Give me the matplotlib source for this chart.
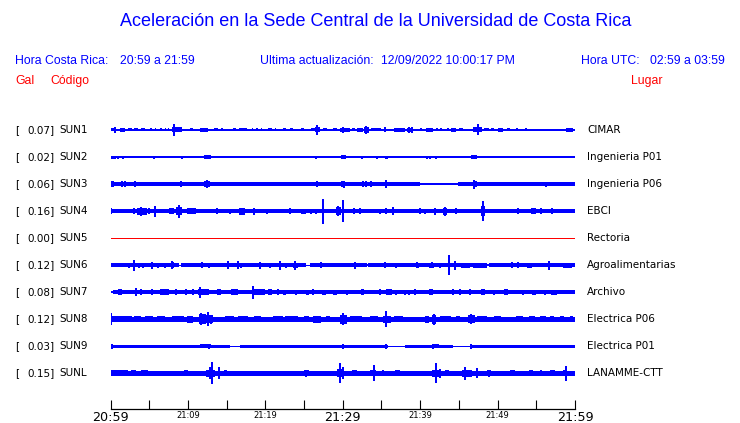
import numpy as np
import matplotlib
matplotlib.use('Agg')
import matplotlib.pyplot as plt

# ---- data (minutes after 20:59, half height of the trace in px) ----
codes = ['SUN1', 'SUN2', 'SUN3', 'SUN4', 'SUN5', 'SUN6', 'SUN7', 'SUN8', 'SUN9', 'SUNL']
peak_gal = [0.07, 0.02, 0.06, 0.16, 0.00, 0.12, 0.08, 0.12, 0.03, 0.15]
places = ['CIMAR', 'Ingenieria P01', 'Ingenieria P06', 'EBCI', 'Rectoria',
          'Agroalimentarias', 'Archivo', 'Electrica P06', 'Electrica P01', 'LANAMME-CTT']
time_ticks = [0, 5, 10, 15, 20, 25, 30, 35, 40, 45, 50, 55, 60]
time_labels = ['20:59', '', '21:09', '', '21:19', '', '21:29', '', '21:39', '', '21:49', '', '21:59']

# (start, end, half) continuous level of each trace
sun1_base = [(0, 60, 0.6)]
sun1_blocks = [(0.0, 0.4, 1.5), (1.2, 1.9, 2.2), (2.2, 2.8, 1.5), (3.1, 3.6, 1.5), (3.9, 4.4, 1.5),
               (5.1, 5.3, 1.5), (5.7, 5.9, 1.5), (6.4, 6.6, 1.5), (7.0, 7.2, 1.5), (7.4, 7.5, 1.5),
               (7.9, 9.2, 2.5), (10.3, 10.7, 1.5), (11.5, 12.6, 1.6), (13.4, 13.9, 1.5), (14.3, 14.5, 1.5),
               (15.8, 16.2, 1.5), (16.6, 17.6, 1.5), (18.3, 18.4, 1.5), (18.8, 19.0, 1.5), (19.4, 19.6, 1.5),
               (20.4, 20.8, 1.5), (21.3, 21.4, 1.5), (22.3, 22.7, 1.5), (23.2, 23.6, 1.5), (24.6, 25.0, 1.5),
               (25.9, 26.4, 1.5), (26.4, 27.1, 2.5), (27.5, 28.0, 1.5), (28.8, 29.2, 1.5), (29.6, 30.9, 1.8),
               (31.2, 31.6, 1.5), (31.8, 32.6, 1.6), (32.8, 33.4, 3.0), (33.6, 35.0, 1.5), (36.6, 38.0, 1.6),
               (38.3, 39.0, 1.6), (40.0, 40.2, 1.5), (40.8, 41.7, 1.6), (42.1, 42.3, 1.5), (42.6, 42.8, 1.5),
               (43.5, 43.7, 1.5), (44.0, 44.6, 1.6), (45.0, 45.5, 1.5), (46.8, 48.0, 2.5), (48.3, 48.9, 1.5),
               (49.1, 49.5, 1.5), (50.0, 50.7, 1.6), (51.2, 51.6, 1.5), (52.4, 52.6, 1.5), (53.5, 53.8, 1.5),
               (58.9, 59.7, 1.6)]
sun1_spikes = [(0.6, 3), (8.2, 6), (26.7, 5), (30.0, 3), (33.0, 4), (35.5, 2.5), (38.5, 3), (38.9, 3), (47.5, 5.5)]

sun2_base = [(0, 60, 0.6)]
sun2_blocks = [(0, 0.6, 1.5), (0.9, 1.0, 1.5), (1.3, 1.4, 1.5), (2.3, 2.4, 1.2), (12.1, 13.0, 1.6),
               (29.8, 30.4, 2.0), (34.3, 34.6, 1.5), (35.5, 35.8, 1.5), (40.7, 41.0, 1.5), (41.2, 41.4, 1.5),
               (41.9, 42.2, 1.5), (46.6, 47.3, 1.6)]
sun2_spikes = [(0.6, 1.5), (1.0, 1.5), (1.6, 1.5), (2.8, 1.2), (5.6, 1.5), (6.1, 1.2), (8.4, 1.0), (9.2, 1.5),
               (12.5, 2.0), (15.0, 1.0), (15.3, 1.0), (26.6, 1.5), (30.2, 2.0), (31.0, 1.0), (32.5, 1.5),
               (33.5, 1.0), (37.4, 1.0), (43.1, 1.0), (43.5, 1.0), (45.5, 1.0), (48.5, 1.0), (51.0, 1.0), (51.4, 1.0)]

sun3_base = [(0, 40.0, 2.1), (40.0, 44.9, 0.6), (44.9, 60, 2.1)]
sun3_blocks = [(0, 0.4, 2.8), (12.1, 12.9, 3.2), (29.8, 30.3, 3.0), (47.0, 47.3, 3.4)]
sun3_spikes = [(0.1, 3), (1.5, 2.8), (1.9, 2.8), (3.2, 2.8), (9.1, 2.8), (12.5, 4), (26.7, 2.8), (30.1, 3.5),
               (32.6, 2.8), (33.0, 2.8), (33.7, 2.8), (35.6, 4), (41.7, 1.0), (47.0, 4.5), (56.3, 2.5)]

sun4_base = [(0, 60, 2.1)]
sun4_blocks = [(3.4, 4.7, 3.5), (7.6, 8.2, 3.0), (8.4, 9.3, 4.0), (9.9, 11.0, 3.0), (16.6, 17.4, 3.5),
               (18.5, 18.7, 3.0), (24.6, 25.3, 2.6), (29.1, 29.8, 4.0), (42.9, 43.5, 3.5), (47.9, 48.4, 5.0),
               (54.3, 55.0, 2.8)]
sun4_spikes = [(0.1, 2.8), (3.0, 3.0), (4.0, 4.5), (5.0, 2.8), (5.7, 5.5), (8.8, 6.5), (13.7, 2.8), (15.4, 2.6),
               (18.6, 3.5), (20.2, 2.6), (23.2, 2.8), (25.9, 2.6), (26.6, 2.6), (27.5, 12.5), (29.4, 5.0),
               (30.0, 11.0), (31.5, 2.8), (32.2, 2.8), (34.8, 2.6), (35.6, 3.0), (36.5, 4.0), (40.0, 2.8),
               (40.6, 2.6), (41.9, 3.5), (43.2, 4.5), (44.6, 3.0), (48.1, 10.0), (52.6, 3.0), (55.6, 2.8),
               (57.0, 2.8)]

sun5_base = [(0, 60, 0.6)]
sun5_blocks = []
sun5_spikes = []

sun6_base = [(0, 8.9, 2.0), (8.9, 9.1, 0.6), (9.1, 25.3, 2.0), (25.3, 25.8, 0.6), (25.8, 33.1, 2.0),
             (33.1, 33.3, 0.8), (33.3, 48.6, 2.0), (48.6, 48.9, 0.8), (48.9, 60, 2.0)]
sun6_blocks = [(23.6, 24.2, 2.6), (39.4, 39.8, 2.5), (41.1, 41.8, 2.6), (45.3, 46.5, 2.4), (46.8, 48.6, 2.4),
               (53.8, 54.4, 2.5), (58.4, 59.6, 2.4)]
sun6_spikes = [(2.4, 2.5), (3.1, 5.5), (3.7, 2.5), (4.2, 2.5), (5.3, 3.5), (6.2, 2.5), (7.1, 2.5), (7.9, 4.0),
               (8.1, 3.0), (11.8, 2.8), (12.7, 2.5), (15.2, 4.0), (16.5, 4.0), (16.9, 2.5), (19.3, 3.5),
               (20.6, 2.5), (21.9, 4.5), (22.7, 2.5), (23.8, 4.5), (27.2, 2.8), (31.6, 3.5), (35.5, 2.8),
               (36.9, 2.5), (39.6, 2.8), (41.5, 3.0), (42.5, 2.4), (43.7, 10.0), (44.5, 4.5), (45.5, 2.5),
               (51.9, 2.8), (52.7, 3.0), (56.7, 4.5)]

sun7_base = [(0, 0.3, 0.8), (0.3, 60, 2.2)]
sun7_blocks = [(1.0, 1.5, 2.8), (6.4, 7.5, 2.8), (11.3, 12.0, 2.8), (12.0, 12.7, 3.0), (13.7, 14.3, 2.8),
               (15.6, 16.5, 2.8), (18.3, 20.0, 3.0), (20.4, 20.8, 2.8), (22.3, 22.7, 2.6), (25.3, 25.6, 2.6),
               (27.3, 27.8, 2.6), (28.8, 29.2, 2.6), (32.3, 32.7, 2.8), (35.6, 36.3, 2.8), (41.2, 41.7, 2.8),
               (45.0, 45.3, 2.8), (47.9, 48.4, 2.8), (50.8, 51.3, 2.8), (54.5, 55.0, 2.6), (56.0, 56.3, 2.6),
               (56.9, 57.7, 2.6)]
sun7_spikes = [(3.3, 4.0), (3.9, 2.8), (5.4, 2.8), (8.5, 3.0), (9.8, 2.8), (10.7, 2.8), (11.6, 5.5),
               (18.4, 6.5), (21.7, 2.8), (24.0, 2.6), (26.2, 2.8), (30.5, 2.6), (34.8, 2.8), (36.9, 2.6),
               (38.0, 2.6), (38.6, 2.6), (39.3, 3.0), (44.2, 2.8), (46.4, 2.8), (49.6, 2.6), (53.3, 2.6)]

sun8_base = [(0, 60, 2.5)]
sun8_blocks = [(0.1, 2.8, 3.2), (3.0, 4.0, 3.2), (4.5, 5.5, 3.2), (6.0, 7.0, 3.2), (8.0, 9.5, 3.2),
               (9.9, 10.6, 3.5), (11.4, 12.4, 5.0), (12.4, 13.3, 4.0), (14.8, 16.0, 3.2), (16.5, 17.8, 3.2),
               (18.6, 19.5, 3.1), (21.0, 22.3, 3.2), (22.6, 24.2, 3.2), (25.0, 25.6, 3.1), (26.2, 27.2, 3.5),
               (27.8, 28.4, 3.1), (29.6, 30.5, 4.5), (31.0, 32.5, 3.2), (33.5, 34.6, 3.2), (35.2, 36.2, 3.5),
               (36.6, 37.8, 3.2), (40.6, 41.2, 3.5), (41.5, 42.0, 4.5), (42.5, 44.0, 3.2), (44.6, 45.2, 3.2),
               (46.2, 47.1, 4.0), (47.4, 48.6, 3.2), (49.5, 50.4, 3.2), (52.4, 53.3, 3.2), (54.0, 54.8, 3.2),
               (55.5, 56.2, 3.2), (56.8, 57.3, 3.1), (58.0, 58.6, 3.1), (59.3, 59.7, 3.1)]
sun8_spikes = [(0.06, 6.0), (11.7, 6.0), (12.6, 7.0), (13.0, 4.5), (30.0, 6.0), (35.6, 8.0), (41.8, 5.5), (46.6, 5.0)]

sun9_base = [(0, 15.4, 1.4), (15.4, 16.7, 0.6), (16.7, 35.9, 1.4), (35.9, 38.1, 0.8), (38.1, 44.2, 1.4),
             (44.2, 46.4, 0.8), (46.4, 60, 1.3)]
sun9_blocks = [(0.0, 1.0, 1.8), (1.5, 2.2, 1.8), (3.0, 3.7, 1.8), (4.5, 5.2, 1.8), (6.0, 6.8, 1.8),
               (7.5, 8.3, 1.8), (9.0, 9.5, 1.8), (10.3, 10.9, 1.8), (11.6, 13.0, 2.0), (14.0, 14.6, 1.8),
               (17.0, 17.6, 1.8), (18.0, 18.8, 1.8), (19.5, 20.3, 1.8), (21.0, 21.7, 1.8), (22.2, 23.0, 1.8),
               (23.8, 24.6, 1.8), (25.2, 25.9, 1.8), (26.6, 27.4, 1.8), (28.0, 28.7, 1.8), (29.3, 29.8, 1.8),
               (31.3, 32.0, 1.8), (32.6, 33.4, 1.8), (34.1, 35.0, 1.8), (39.0, 40.0, 1.8), (40.3, 41.2, 1.8),
               (41.8, 42.4, 2.0), (47.0, 47.5, 1.8), (48.0, 48.7, 1.8), (49.2, 49.9, 1.8), (53.2, 53.9, 1.8),
               (54.6, 55.3, 1.8), (56.4, 57.0, 1.8), (58.0, 58.6, 1.8), (59.2, 59.8, 1.8)]
sun9_spikes = [(0.25, 2.8), (12.7, 2.8), (30.0, 2.8), (35.6, 2.2), (41.7, 2.2), (46.6, 2.8)]

sunl_base = [(0, 60, 2.4)]
sunl_blocks = [(0, 2.3, 2.9), (2.6, 3.3, 2.9), (4.0, 4.8, 3.0), (5.2, 6.0, 2.8), (6.5, 7.5, 2.8), (8.0, 8.8, 2.8),
               (9.5, 10.0, 2.9), (10.8, 11.4, 2.8), (12.4, 13.5, 3.5), (14.6, 15.0, 3.0), (19.6, 20.2, 2.8),
               (21.2, 21.6, 2.8), (23.0, 23.6, 2.8), (25.0, 25.6, 3.0), (27.0, 27.5, 2.8), (29.3, 30.2, 4.0),
               (31.2, 31.8, 3.0), (33.5, 34.3, 3.0), (36.8, 37.4, 3.0), (41.5, 42.6, 3.5), (43.2, 43.7, 3.0),
               (45.4, 46.7, 3.5), (48.6, 49.2, 3.0), (51.6, 52.2, 2.9), (54.0, 54.6, 2.9), (56.8, 57.4, 3.0),
               (58.5, 59.0, 3.0)]
sunl_spikes = [(0.1, 2.9), (4.4, 3.0), (11.3, 2.8), (12.8, 6.0), (13.1, 11.0), (14.0, 6.0), (14.9, 3.0),
               (20.4, 2.8), (22.1, 2.8), (25.3, 3.5), (26.0, 2.8), (27.7, 2.8), (29.6, 10.0), (30.0, 6.0),
               (31.5, 2.8), (34.1, 8.0), (35.2, 3.0), (40.3, 2.8), (42.1, 10.0), (42.6, 4.5), (43.5, 3.0),
               (44.5, 2.8), (45.8, 6.5), (47.3, 5.0), (48.9, 3.5), (51.4, 2.8), (52.2, 2.8), (54.3, 2.8),
               (55.6, 3.0), (58.8, 7.5), (59.3, 2.8)]

traces = [(sun1_base, sun1_blocks, sun1_spikes), (sun2_base, sun2_blocks, sun2_spikes),
          (sun3_base, sun3_blocks, sun3_spikes), (sun4_base, sun4_blocks, sun4_spikes),
          (sun5_base, sun5_blocks, sun5_spikes), (sun6_base, sun6_blocks, sun6_spikes),
          (sun7_base, sun7_blocks, sun7_spikes), (sun8_base, sun8_blocks, sun8_spikes),
          (sun9_base, sun9_blocks, sun9_spikes), (sunl_base, sunl_blocks, sunl_spikes)]

W, H = 740, 423
ROW_PX = 27.04   # vertical spacing between traces, px
BLUE = '#0000ff'
RED = '#ff0000'


def draw_trace(ax, row, base, blocks, spikes, color):
    # rectangles for the continuous level and for the bursts
    for segs in (base, blocks):
        if not segs:
            continue
        s = np.array(segs, dtype=float)
        ax.bar(s[:, 0], 2 * s[:, 2] / ROW_PX, width=s[:, 1] - s[:, 0], bottom=row - s[:, 2] / ROW_PX,
               align='edge', color=color, linewidth=0, antialiased=False)
    # short isolated peaks
    if spikes:
        p = np.array(spikes, dtype=float)
        ax.vlines(p[:, 0], row - p[:, 1] / ROW_PX, row + p[:, 1] / ROW_PX, color=color,
                  linewidth=1.2, antialiased=False)


fig = plt.figure(figsize=(W / 100, H / 100), dpi=100)
ax_bottom_px, ax_top_px = 409.3, 115
ax = fig.add_axes([110.5 / W, 1 - ax_bottom_px / H, 464.5 / W, (ax_bottom_px - ax_top_px) / H])
ax.set_xlim(0, 60)
ax.set_ylim((ax_bottom_px - 130) / ROW_PX, (ax_top_px - 130) / ROW_PX)

for i, (base, blocks, spikes) in enumerate(traces):
    color = RED if peak_gal[i] == 0 else BLUE
    draw_trace(ax, i, base, blocks, spikes, color)

for side in ['top', 'left', 'right']:
    ax.spines[side].set_visible(False)
ax.spines['bottom'].set_linewidth(0.9)
ax.set_yticks([])
ax.set_xticks(time_ticks)
ax.set_xticklabels(time_labels)
ax.tick_params(axis='x', direction='in', length=6.5, width=0.8, pad=1.5)
for t, lab in zip(time_ticks, ax.get_xticklabels()):
    lab.set_fontsize(9.2 if t % 30 == 0 else 6)
    lab.set_family('DejaVu Sans')

# left and right labels
for i in range(len(codes)):
    y = 1 - (130 + ROW_PX * i) / H
    fig.text(15 / W, y, '[', fontsize=7.5, va='center', family='DejaVu Sans')
    fig.text(27.5 / W, y, f'{peak_gal[i]:.2f}]', fontsize=7.5, va='center', family='DejaVu Sans')
    fig.text(59 / W, y, codes[i], fontsize=7.5, va='center', family='DejaVu Sans')
    fig.text(587 / W, y, places[i], fontsize=7.5, va='center', family='DejaVu Sans')

# titles
sans = 'Liberation Sans'
fig.text(376 / W, 1 - 22 / H, 'Aceleración en la Sede Central de la Universidad de Costa Rica',
         fontsize=13.0, color=BLUE, ha='center', va='center', family=sans)
hy = 1 - 61 / H
fig.text(15 / W, hy, 'Hora Costa Rica:', fontsize=8.8, color=BLUE, va='center', family=sans)
fig.text(120.5 / W, hy, '20:59 a 21:59', fontsize=8.8, color=BLUE, va='center', family=sans)
fig.text(260.5 / W, hy, 'Ultima actualización:', fontsize=8.8, color=BLUE, va='center', family=sans)
fig.text(381 / W, hy, '12/09/2022 10:00:17 PM', fontsize=8.8, color=BLUE, va='center', family=sans)
fig.text(581 / W, hy, 'Hora UTC:', fontsize=8.8, color=BLUE, va='center', family=sans)
fig.text(650 / W, hy, '02:59 a 03:59', fontsize=8.8, color=BLUE, va='center', family=sans)
ry = 1 - 81 / H
fig.text(15 / W, ry, 'Gal', fontsize=8.8, color=RED, va='center', family=sans)
fig.text(50 / W, ry, 'Código', fontsize=8.8, color=RED, va='center', family=sans)
fig.text(631 / W, ry, 'Lugar', fontsize=8.8, color=RED, va='center', family=sans)

fig.savefig('out.png', dpi=100)
